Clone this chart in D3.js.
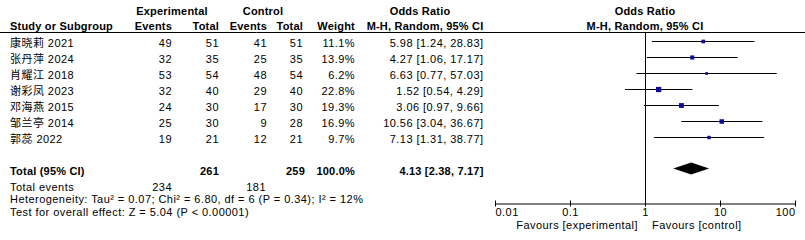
<!DOCTYPE html>
<html><head><meta charset="utf-8">
<script src="https://cdn.jsdelivr.net/npm/d3@7"></script>
<style>
html,body{margin:0;padding:0;background:#fff;}
svg text{font-family:"Liberation Sans",Arial,"Noto Sans CJK SC",sans-serif;font-size:11px;letter-spacing:0.45px;fill:#000;}
svg text.b{font-size:11px;letter-spacing:0.2px;font-weight:bold;}
</style></head>
<body>
<svg id="c" width="805" height="240"></svg>
<script>
const studies = ["康晓莉 2021","张丹萍 2024","肖耀江 2018","谢彩凤 2023","邓海燕 2015","邹兰亭 2014","郭蕊 2022"];
const expEvents = [49,32,53,32,24,25,19];
const expTotal = [51,35,54,40,30,30,21];
const ctrlEvents = [41,25,48,29,17,9,12];
const ctrlTotal = [51,35,54,40,30,28,21];
const weights = [11.1,13.9,6.2,22.8,19.3,16.9,9.7];
const oddsRatio = [5.98,4.27,6.63,1.52,3.06,10.56,7.13];
const ciLow = [1.24,1.06,0.77,0.54,0.97,3.04,1.31];
const ciHigh = [28.83,17.17,57.03,4.29,9.66,36.67,38.77];
const totalExp = 261, totalCtrl = 259, totalWeight = 100.0;
const pooled = [4.13, 2.38, 7.17];
const totalEventsExp = 234, totalEventsCtrl = 181;
const tickValues = [0.01,0.1,1,10,100];
const tickLabels = ["0.01","0.1","1","10","100"];
const heterogeneity = "Heterogeneity: Tau² = 0.07; Chi² = 6.80, df = 6 (P = 0.34); I² = 12%";
const overall = "Test for overall effect: Z = 5.04 (P < 0.00001)";

const svg = d3.select("#c");
const x = d3.scaleLog().domain([0.01,100]).range([495,795]);
const rowY = d3.scaleLinear().domain([0,1]).range([47.3,63.3]);
const axisY = 203.5;
const sq = d3.scaleSqrt().domain([0,100]).range([0,11]);
const blue = "#0d0d9a";

function txt(g, s, xx, yy, anchor, bold){
  return g.append("text").attr("x",xx).attr("y",yy).attr("text-anchor",anchor||"start")
    .attr("class",bold?"b":null).text(s);
}
const g = svg.append("g");
// headers
txt(g,"Experimental",172,15,"middle",true);
txt(g,"Control",263,15,"middle",true);
txt(g,"Odds Ratio",420,15,"middle",true);
txt(g,"Odds Ratio",x(1),15,"middle",true);
txt(g,"Study or Subgroup",10,29.5,"start",true);
txt(g,"Events",172,29.5,"end",true);
txt(g,"Total",219,29.5,"end",true);
txt(g,"Events",267,29.5,"end",true);
txt(g,"Total",303,29.5,"end",true);
txt(g,"Weight",355,29.5,"end",true);
txt(g,"M-H, Random, 95% CI",483.5,29.5,"end",true);
txt(g,"M-H, Random, 95% CI",x(1),29.5,"middle",true);
g.append("line").attr("x1",0).attr("x2",805).attr("y1",32.5).attr("y2",32.5).attr("stroke","#000").attr("stroke-width",1);

// rows
studies.forEach((s,i)=>{
  const y = rowY(i);
  txt(g,s,10,y);
  txt(g,expEvents[i],172,y,"end");
  txt(g,expTotal[i],219,y,"end");
  txt(g,ctrlEvents[i],267,y,"end");
  txt(g,ctrlTotal[i],303,y,"end");
  txt(g,weights[i].toFixed(1)+"%",355,y,"end");
  txt(g,oddsRatio[i].toFixed(2)+" ["+ciLow[i].toFixed(2)+", "+ciHigh[i].toFixed(2)+"]",483.5,y,"end");
});

// vertical line at 1
g.append("line").attr("x1",Math.round(x(1))+0.5).attr("x2",Math.round(x(1))+0.5).attr("y1",33).attr("y2",axisY)
 .attr("stroke","#000").attr("stroke-width",1);

// CI lines and squares
const cy = i => rowY(i) - 6.5;
g.selectAll("line.ci").data(studies).enter().append("line").attr("class","ci")
  .attr("x1",(d,i)=>x(ciLow[i])).attr("x2",(d,i)=>x(ciHigh[i]))
  .attr("y1",(d,i)=>Math.round(cy(i))+0.5).attr("y2",(d,i)=>Math.round(cy(i))+0.5)
  .attr("stroke","#000").attr("stroke-width",1);
g.selectAll("rect.sq").data(studies).enter().append("rect").attr("class","sq")
  .attr("x",(d,i)=>x(oddsRatio[i])-sq(weights[i])/2)
  .attr("y",(d,i)=>Math.round(cy(i))+0.5-sq(weights[i])/2)
  .attr("width",(d,i)=>sq(weights[i])).attr("height",(d,i)=>sq(weights[i]))
  .attr("fill",blue);

// total
const ty = 175;
txt(g,"Total (95% CI)",10,ty,"start",true);
txt(g,totalExp,219,ty,"end",true);
txt(g,totalCtrl,305,ty,"end",true);
txt(g,totalWeight.toFixed(1)+"%",355,ty,"end",true);
txt(g,pooled[0].toFixed(2)+" ["+pooled[1].toFixed(2)+", "+pooled[2].toFixed(2)+"]",483.5,ty,"end",true);
const dy = ty - 6.5;
g.append("path").attr("d",`M${x(pooled[1])},${dy}L${x(pooled[0])},${dy-6}L${x(pooled[2])},${dy}L${x(pooled[0])},${dy+6}Z`).attr("fill","#000");

txt(g,"Total events",10,190.8);
txt(g,totalEventsExp,172,190.8,"end");
txt(g,totalEventsCtrl,266,190.8,"end");
txt(g,heterogeneity,10,203.3);
txt(g,overall,10,215.8);

// axis
const ax = svg.append("g").attr("transform",`translate(0,${axisY})`)
  .call(d3.axisBottom(x).tickValues(tickValues).tickFormat((d,i)=>tickLabels[i]).tickSizeOuter(0).tickSizeInner(3).tickPadding(1.5));
ax.attr("font-family",null).attr("font-size",null);
ax.select(".domain").attr("stroke","#000");
ax.selectAll(".tick line").attr("y1",-3).attr("y2",3).attr("stroke","#000");
ax.selectAll(".tick text").attr("fill","#000")
  .attr("text-anchor",(d,i)=> i===0?"start":(i===tickValues.length-1?"end":"middle"));
txt(g,"Favours [experimental]",x(1)-7,229,"end");
txt(g,"Favours [control]",x(1)+7,229,"start");
</script>
</body></html>
